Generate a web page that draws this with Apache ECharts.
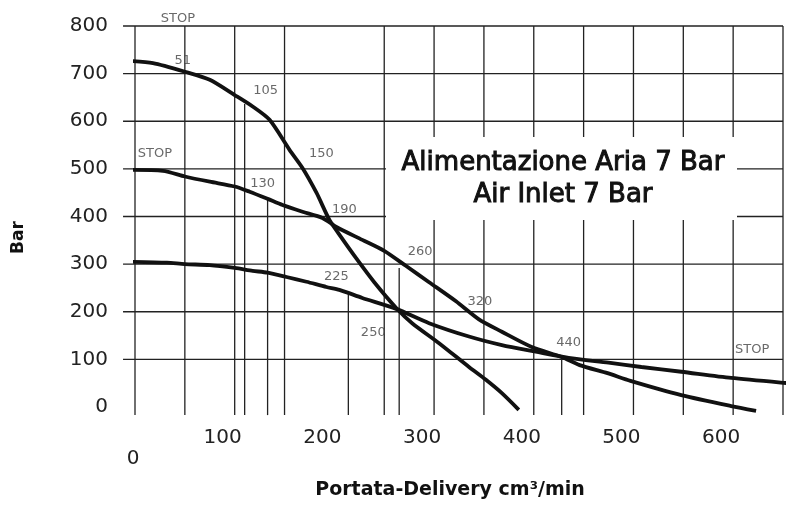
<!DOCTYPE html>
<html>
<head>
<meta charset="utf-8">
<script src="https://cdn.jsdelivr.net/npm/echarts@6/dist/echarts.min.js"></script>
<style>html,body{margin:0;padding:0;background:#fff}#c{width:803px;height:506px}</style>
</head>
<body>
<div id="c"></div>
<script>
// ---- data ----
const xTicks = [0, 100, 200, 300, 400, 500, 600];
const yTicks = [0, 100, 200, 300, 400, 500, 600, 700, 800];
const gridX = [0, 50, 100, 150, 250, 300, 350, 400, 450, 500, 550, 600, 650];
const gridY = [100, 200, 300, 400, 500, 600, 700, 800];
const partialX = [110, 133, 214, 265, 428];
const partialTop = [636, 435, 240, 292, 103];

const curveA_x = [-7, 18, 50, 75, 100, 118, 135, 155, 168, 182, 195, 205, 222, 240, 262, 278, 305, 335, 352, 368, 385];
const curveA_y = [727, 722, 704, 687, 655, 631, 603, 540, 502, 450, 393, 362, 312, 262, 208, 176, 134, 84, 57, 29, -6];

const curveB_x = [-12, 28, 50, 75, 100, 115, 133, 148, 168, 188, 202, 228, 250, 272, 295, 322, 345, 368, 398, 428, 446, 474, 497, 548, 598, 623];
const curveB_y = [498, 496, 484, 473, 463, 452, 437, 424, 410, 397, 378, 351, 328, 296, 262, 222, 184, 158, 126, 105, 88, 71, 55, 25, 2, -8];

const curveC_x = [-7, 32, 50, 75, 100, 118, 133, 152, 172, 192, 205, 228, 262, 295, 335, 368, 402, 435, 475, 508, 548, 598, 655, 668];
const curveC_y = [305, 303, 300, 298, 292, 286, 282, 273, 263, 252, 246, 229, 206, 176, 148, 130, 116, 103, 93, 84, 74, 61, 50, 48];

const noteText = ['STOP', '51', '105', '150', 'STOP', '130', '190', '260', '225', '250', '320', '440', 'STOP'];
const noteX = [43, 48, 131, 187, 20, 128, 210, 286, 202, 239, 346, 435, 619];
const noteY = [815, 727, 664, 531, 533, 468, 414, 326, 273, 156, 222, 136, 120];

const titleLines = ['Alimentazione Aria 7 Bar', 'Air Inlet 7 Bar'];
const xName = 'Portata-Delivery cm³/min';
const yName = 'Bar';

// ---- build ----
const zip = (xs, ys) => xs.map((x, i) => [x, ys[i]]);
const segs = [];
gridX.forEach(x => segs.push([x, -17, x, 800]));
partialX.forEach((x, i) => segs.push([x, -17, x, partialTop[i]]));
gridY.forEach(y => segs.push([-12, y, 650, y]));

const FONT = 'DejaVu Sans';
const chart = echarts.init(document.getElementById('c'), null, {renderer: 'canvas'});
const curveStyle = {color: '#111', width: 3.8};
chart.setOption({
  animation: false,
  backgroundColor: '#fff',
  grid: {left: 135, right: 20, top: 26, bottom: 99},
  xAxis: {
    type: 'value', min: 0, max: 650, interval: 100,
    axisLine: {show: false}, axisTick: {show: false}, splitLine: {show: false},
    axisLabel: {
      showMaxLabel: false, margin: 21,
      formatter: v => v === 0 ? '{z|0}' : '{n|' + v + '}',
      rich: {
        n: {fontFamily: FONT, fontSize: 20, color: '#222', padding: [0, 24, 0, 0]},
        z: {fontFamily: FONT, fontSize: 20, color: '#222', padding: [21, 4, 0, 0]}
      }
    },
    name: xName, nameLocation: 'middle', nameGap: 74,
    nameTextStyle: {fontFamily: FONT, fontSize: 19, fontWeight: 'bold', color: '#111', padding: [0, 18, 0, 0]}
  },
  yAxis: {
    type: 'value', min: 0, max: 800, interval: 100,
    axisLine: {show: false}, axisTick: {show: false}, splitLine: {show: false},
    axisLabel: {fontFamily: FONT, fontSize: 20, color: '#222', margin: 27, padding: [8, 0, 0, 0]},
    name: yName, nameLocation: 'middle', nameGap: 108, nameRotate: 90,
    nameTextStyle: {fontFamily: FONT, fontSize: 17, fontWeight: 'bold', color: '#111', padding: [0, 42, 0, 0]}
  },
  series: [
    {
      type: 'custom', clip: false, z: 1, silent: true,
      data: segs,
      renderItem: (params, api) => {
        const p1 = api.coord([api.value(0), api.value(1)]);
        const p2 = api.coord([api.value(2), api.value(3)]);
        return {type: 'line', shape: {x1: p1[0], y1: p1[1], x2: p2[0], y2: p2[1]},
                style: {stroke: '#222', lineWidth: 1.3}};
      }
    },
    {type: 'line', data: zip(curveA_x, curveA_y), showSymbol: false, smooth: 0.25, clip: false, z: 3, lineStyle: curveStyle},
    {type: 'line', data: zip(curveB_x, curveB_y), showSymbol: false, smooth: 0.25, clip: false, z: 3, lineStyle: curveStyle},
    {type: 'line', data: zip(curveC_x, curveC_y), showSymbol: false, smooth: 0.25, clip: false, z: 3, lineStyle: curveStyle},
    {
      type: 'scatter', clip: false, symbolSize: 0, z: 4,
      data: noteX.map((x, i) => ({value: [x, noteY[i]], name: noteText[i]})),
      label: {show: true, position: 'inside', formatter: p => p.name,
              fontFamily: FONT, fontSize: 13, color: '#444'}
    }
  ],
  graphic: [
    {type: 'rect', z: 10, shape: {x: 386, y: 137, width: 351, height: 83}, style: {fill: '#fff'}},
    {type: 'text', z: 11, x: 563, y: 163, style: {text: titleLines[0], fontFamily: FONT, fontSize: 26,
      fill: '#111', align: 'center', verticalAlign: 'middle', stroke: '#111', lineWidth: 1.0}},
    {type: 'text', z: 11, x: 563, y: 195, style: {text: titleLines[1], fontFamily: FONT, fontSize: 26,
      fill: '#111', align: 'center', verticalAlign: 'middle', stroke: '#111', lineWidth: 1.0}}
  ]
});
</script>
</body>
</html>
